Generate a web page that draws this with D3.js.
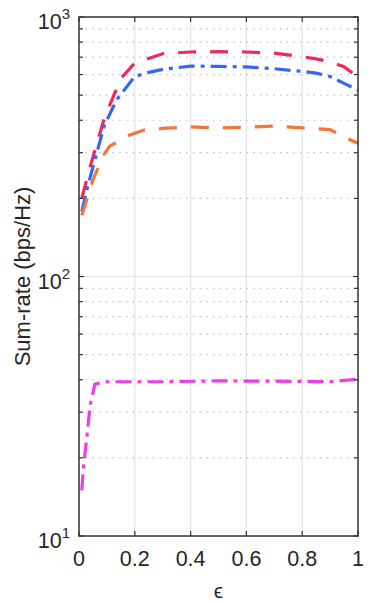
<!DOCTYPE html>
<html lang="en">
<head>
	<meta charset="UTF-8">
	<title>Sum-rate vs epsilon</title>
	<style>
		body { margin: 0; background: #fff; }
		text { font-family: "Liberation Sans", Arial, sans-serif; fill: #262626; }
	</style>
</head>
<body>
	<svg width=374 height=603 id="viz"></svg>

	<script src="https://d3js.org/d3.v7.min.js"></script>
	<script>
	// values (x = epsilon, y = sum-rate in bps/Hz)
	const epsRed   = [0.01, 0.04, 0.09, 0.15, 0.2, 0.3, 0.4, 0.5, 0.6, 0.7, 0.8, 0.85, 0.9, 0.95, 1.0];
	const rateRed  = [200, 265, 405, 580, 665, 722, 733, 735, 733, 726, 703, 690, 672, 643, 585];

	const epsBlue  = [0.01, 0.03, 0.09, 0.135, 0.2, 0.25, 0.3, 0.4, 0.5, 0.6, 0.7, 0.8, 0.85, 0.9, 0.95, 1.0];
	const rateBlue = [178, 220, 380, 480, 590, 612, 628, 647, 645, 642, 632, 617, 608, 590, 555, 522];

	const epsOrange  = [0.01, 0.05, 0.09, 0.11, 0.18, 0.23, 0.3, 0.4, 0.5, 0.6, 0.7, 0.8, 0.9, 0.95, 1.0];
	const rateOrange = [172, 236, 296, 318, 350, 366, 372, 377, 374, 376, 380, 374, 368, 345, 326];

	const epsMagenta  = [0.01, 0.015, 0.028, 0.04, 0.057, 0.1, 0.3, 0.5, 0.7, 0.9, 1.0];
	const rateMagenta = [15, 18, 24, 32, 38.5, 39.3, 39.3, 39.6, 39.5, 39.3, 40.2];

	const xTicks = [0, 0.2, 0.4, 0.6, 0.8, 1];
	const yMajor = [10, 100, 1000];
	const yMinor = [20, 30, 40, 50, 60, 70, 80, 90, 200, 300, 400, 500, 600, 700, 800, 900];

	const svg = d3.select("#viz");
	const margin = {top: 17, right: 16, bottom: 67, left: 79};
	const width = +svg.attr("width") - margin.left - margin.right,
	      height = +svg.attr("height") - margin.top - margin.bottom;

	const x = d3.scaleLinear().domain([0, 1]).range([0, width]);
	const y = d3.scaleLog().domain([10, 1000]).range([height, 0]);

	const g = svg.append("g").attr("transform", `translate(${margin.left},${margin.top})`);

	// grid
	g.append("g").selectAll("line").data(xTicks.slice(1, -1)).enter().append("line")
		.attr("x1", d => x(d)).attr("x2", d => x(d))
		.attr("y1", 0).attr("y2", height)
		.style("stroke", "#e3e3e3").style("stroke-width", 1.2);
	g.append("g").selectAll("line").data([100]).enter().append("line")
		.attr("x1", 0).attr("x2", width)
		.attr("y1", d => y(d)).attr("y2", d => y(d))
		.style("stroke", "#e3e3e3").style("stroke-width", 1.2);
	g.append("g").selectAll("line").data(yMinor).enter().append("line")
		.attr("x1", 0).attr("x2", width)
		.attr("y1", d => y(d)).attr("y2", d => y(d))
		.style("stroke", "#c0c0c0").style("stroke-width", 1.2)
		.style("stroke-dasharray", "1.5,5.2");

	// lines
	const series = [
		{xs: epsRed, ys: rateRed, color: "#f0295c", dash: "18,14"},
		{xs: epsBlue, ys: rateBlue, color: "#3568f2", dash: "16,6,4,6"},
		{xs: epsOrange, ys: rateOrange, color: "#f57538", dash: "18,14"},
		{xs: epsMagenta, ys: rateMagenta, color: "#f03ce6", dash: "16,6,4,6"}
	];
	const line = d3.line().x(d => x(d[0])).y(d => y(d[1]));
	g.selectAll(".series").data(series).enter().append("path")
		.attr("class", "series")
		.attr("d", s => line(s.xs.map((v, i) => [v, s.ys[i]])))
		.style("fill", "none")
		.style("stroke", s => s.color)
		.style("stroke-width", 3.2)
		.style("stroke-dasharray", s => s.dash);

	// box
	g.append("rect").attr("width", width).attr("height", height)
		.style("fill", "none").style("stroke", "#333").style("stroke-width", 1.5);

	// ticks (inward, on all sides)
	const tl = 5;
	const tk = g.append("g").style("stroke", "#333").style("stroke-width", 1.2);
	xTicks.forEach(d => {
		tk.append("line").attr("x1", x(d)).attr("x2", x(d)).attr("y1", height).attr("y2", height - tl);
		tk.append("line").attr("x1", x(d)).attr("x2", x(d)).attr("y1", 0).attr("y2", tl);
	});
	yMajor.concat(yMinor).forEach(d => {
		const len = yMajor.includes(d) ? tl : 4;
		tk.append("line").attr("x1", 0).attr("x2", len).attr("y1", y(d)).attr("y2", y(d));
		tk.append("line").attr("x1", width).attr("x2", width - len).attr("y1", y(d)).attr("y2", y(d));
	});

	// x tick labels
	g.append("g").selectAll("text").data(xTicks).enter().append("text")
		.attr("x", d => x(d)).attr("y", height + 30)
		.attr("text-anchor", "middle")
		.style("font-size", "21.5px")
		.text(d => d3.format("")(d));

	// y tick labels 10^n
	const yl = g.append("g").selectAll("text").data(yMajor).enter().append("text")
		.attr("x", -9).attr("y", d => y(d) + 12)
		.attr("text-anchor", "end")
		.style("font-size", "21.5px");
	yl.append("tspan").text("10");
	yl.append("tspan").attr("dy", -10).style("font-size", "15px")
		.text(d => Math.round(Math.log10(d)));

	// axis labels
	svg.append("text")
		.attr("x", margin.left + width / 2).attr("y", 598)
		.attr("text-anchor", "middle")
		.style("font-size", "21px")
		.text("\u03f5");
	svg.append("text")
		.attr("transform", `translate(30,${margin.top + height / 2}) rotate(-90)`)
		.attr("text-anchor", "middle")
		.style("font-size", "22px")
		.text("Sum-rate (bps/Hz)");
	</script>
</body>
</html>
